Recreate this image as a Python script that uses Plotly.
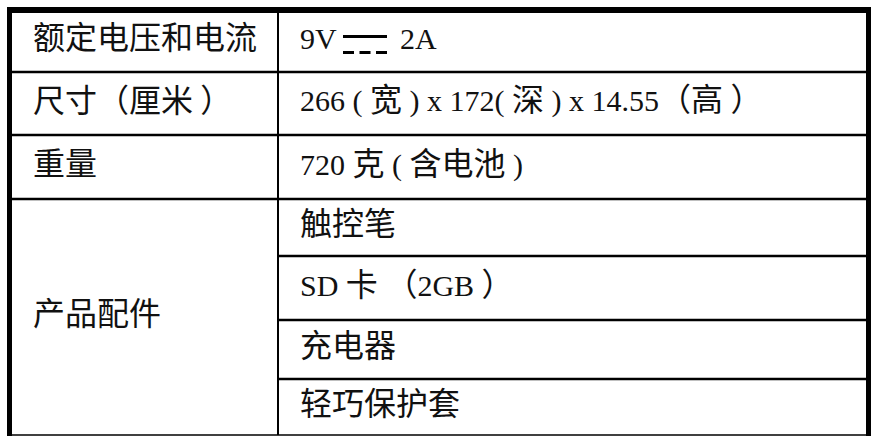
import re
import plotly.graph_objects as go

# ---- data ----
row_labels = ["额定电压和电流", "尺寸（厘米 ）", "重量", "产品配件"]
row_values = ["9V ⎓ 2A", "266 ( 宽 ) x 172( 深 ) x 14.55（高 ）", "720 克 ( 含电池 )"]
accessories = ["触控笔", "SD 卡 （2GB ）", "充电器", "轻巧保护套"]

# ---- layout constants ----
W, H = 872, 436
row_edges = [10, 72, 135, 199, 256, 320, 379, 435]
x_left, x_div, x_right = 9.5, 278, 868.5
pad_left_col, pad_right_col = 33, 300
CJK_FAMILY = "Noto Sans CJK SC"
CJK_SIZE = 32
left_font = dict(family=CJK_FAMILY + ", sans-serif", size=CJK_SIZE, color="#111111")
right_font = dict(family="Liberation Serif, " + CJK_FAMILY + ", serif", size=30, color="#111111")

CJK_RE = re.compile(r"([\u3000-\u303f\u4e00-\u9fff\uff00-\uffef]+)")


def styled(s):
    return CJK_RE.sub(
        lambda m: '<span style="font-family:%s;font-size:%dpx">%s</span>' % (CJK_FAMILY, CJK_SIZE, m.group(1)), s)


fig = go.Figure()
shapes = []


def hline(y, x0, x1, w):
    shapes.append(dict(type="line", xref="x", yref="y", x0=x0, x1=x1, y0=y, y1=y,
                       line=dict(color="black", width=w)))


def vline(x, y0, y1, w):
    shapes.append(dict(type="line", xref="x", yref="y", x0=x, x1=x, y0=y0, y1=y1,
                       line=dict(color="black", width=w)))


# outer frame
hline(row_edges[0], 7, 871, 6)
hline(row_edges[-1], 7, 866, 1.5)
vline(x_left, row_edges[0], row_edges[-1] + 1, 5)
vline(x_right, row_edges[0], H, 5)
vline(x_div, row_edges[0], row_edges[-1], 2)

# row separators
n_simple = len(row_values)
for i in range(1, len(row_edges) - 1):
    if i <= n_simple:
        hline(row_edges[i], x_left, x_right, 2.5)
    else:
        hline(row_edges[i], x_div, x_right, 2.5)

# left column texts
lx, ly, lt = [], [], []
for i, lab in enumerate(row_labels):
    if i < n_simple:
        yc = (row_edges[i] + row_edges[i + 1]) / 2
    else:
        yc = (row_edges[n_simple] + row_edges[-1]) / 2
    lx.append(pad_left_col); ly.append(yc); lt.append(lab)
fig.add_trace(go.Scatter(x=lx, y=ly, text=lt, mode="text", textposition="middle right",
                         textfont=left_font, hoverinfo="skip", showlegend=False, cliponaxis=False))

# right column texts
rx, ry, rt = [], [], []
for i, val in enumerate(row_values):
    yc = (row_edges[i] + row_edges[i + 1]) / 2
    if "⎓" in val:
        left_part, right_part = [s.strip() for s in val.split("⎓")]
        rx.append(pad_right_col); ry.append(yc); rt.append(styled(left_part))
        rx.append(pad_right_col + 100); ry.append(yc); rt.append(styled(right_part))
        # direct-current symbol: solid bar above dashed bar
        sx0, sx1 = pad_right_col + 43, pad_right_col + 87
        shapes.append(dict(type="line", xref="x", yref="y", x0=sx0, x1=sx1, y0=yc - 4.5, y1=yc - 4.5,
                           line=dict(color="black", width=3)))
        shapes.append(dict(type="line", xref="x", yref="y", x0=sx0, x1=sx1, y0=yc + 11.5, y1=yc + 11.5,
                           line=dict(color="black", width=3, dash="11px,5.5px")))
    else:
        rx.append(pad_right_col); ry.append(yc); rt.append(styled(val))
for j, acc in enumerate(accessories):
    k = n_simple + j
    yc = (row_edges[k] + row_edges[k + 1]) / 2
    rx.append(pad_right_col); ry.append(yc); rt.append(styled(acc))
fig.add_trace(go.Scatter(x=rx, y=ry, text=rt, mode="text", textposition="middle right",
                         textfont=right_font, hoverinfo="skip", showlegend=False, cliponaxis=False))

fig.update_layout(
    width=W, height=H,
    margin=dict(l=0, r=0, t=0, b=0),
    paper_bgcolor="white", plot_bgcolor="white",
    xaxis=dict(range=[0, W], visible=False, fixedrange=True),
    yaxis=dict(range=[H, 0], visible=False, fixedrange=True),
    shapes=shapes,
)

fig.write_html("out.html", config={"displayModeBar": False},
               post_script="document.body.style.margin='0px';document.body.style.overflow='hidden';")
